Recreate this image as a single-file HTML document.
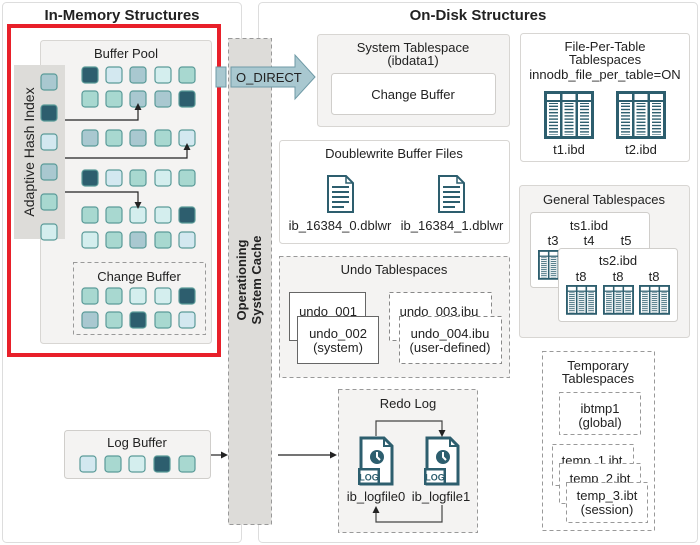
<!DOCTYPE html>
<html><head><meta charset="utf-8"><style>
html,body{margin:0;padding:0;background:#fff}
svg{display:block}
text{font-family:"Liberation Sans",sans-serif;fill:#222;font-size:13px}
.b{font-weight:bold}
</style></head><body>
<svg width="700" height="545" viewBox="0 0 700 545" xmlns="http://www.w3.org/2000/svg">
<defs>
<pattern id="st" width="4" height="3.2" patternUnits="userSpaceOnUse"><rect width="4" height="1.8" fill="#fff"/></pattern>
<g id="tbl">
<rect x="0" y="0" width="50" height="48" fill="#2d5e6e"/>
<rect x="3" y="3" width="13" height="6" fill="#fff"/><rect x="18.5" y="3" width="13" height="6" fill="#fff"/><rect x="34" y="3" width="13" height="6" fill="#fff"/>
<rect x="3" y="11" width="13" height="34" fill="#fff"/><rect x="18.5" y="11" width="13" height="34" fill="#fff"/><rect x="34" y="11" width="13" height="34" fill="#fff"/>
<rect x="5" y="12" width="9" height="32" fill="#2d5e6e"/><rect x="20.5" y="12" width="9" height="32" fill="#2d5e6e"/><rect x="36" y="12" width="9" height="32" fill="#2d5e6e"/>
<rect x="5" y="13" width="9" height="31" fill="url(#st)"/><rect x="20.5" y="13" width="9" height="31" fill="url(#st)"/><rect x="36" y="13" width="9" height="31" fill="url(#st)"/>
</g>
<g id="doc">
<path d="M1 1 H19 L26 8 V37 H1 Z" fill="#fff" stroke="#2d5e6e" stroke-width="2"/>
<path d="M19 1 V8 H26" fill="none" stroke="#2d5e6e" stroke-width="1.5"/>
<g stroke="#2d5e6e" stroke-width="2"><line x1="5" y1="12" x2="22" y2="12"/><line x1="5" y1="17" x2="22" y2="17"/><line x1="5" y1="22" x2="22" y2="22"/><line x1="5" y1="27" x2="22" y2="27"/><line x1="5" y1="32" x2="17" y2="32"/></g>
</g>
<g id="log">
<path d="M3 1 H26 L34 9 V47 H3 Z" fill="#fff" stroke="#2d5e6e" stroke-width="3"/>
<path d="M26 1 V9 H34" fill="none" stroke="#2d5e6e" stroke-width="2"/>
<circle cx="19" cy="20" r="7" fill="#2d5e6e"/>
<path d="M19 15 V20 L22 23" stroke="#fff" stroke-width="2" fill="none"/>
<rect x="0" y="31" width="22" height="17" fill="#2d5e6e"/>
<rect x="2.5" y="33.5" width="17" height="12" fill="#fff"/>
<text x="11" y="43.5" text-anchor="middle" style="font-size:9px;font-weight:bold;fill:#2d5e6e">LOG</text>
</g>
</defs>

<rect x="2.5" y="2.5" width="239" height="540" rx="4" fill="#fff" stroke="#ddd"/>
<rect x="258.5" y="2.5" width="439" height="540" rx="4" fill="#fff" stroke="#ddd"/>
<text x="122" y="20" text-anchor="middle" class="b" style="font-size:15px">In-Memory Structures</text>
<text x="478" y="20" text-anchor="middle" class="b" style="font-size:15px">On-Disk Structures</text>

<rect x="40.5" y="40.5" width="171" height="303" rx="3" fill="#f4f3f2" stroke="#d8d6d3"/>
<text x="126" y="58" text-anchor="middle">Buffer Pool</text>
<rect x="14" y="65" width="51" height="174" fill="#dddcd9"/>
<text transform="translate(34,152) rotate(-90)" text-anchor="middle" style="font-size:14px">Adaptive Hash Index</text>
<g stroke="#5a9a98" stroke-width="1.2">
<rect x="41" y="74" width="16" height="16" rx="3" fill="#a9c8d0"/>
<rect x="41" y="105" width="16" height="16" rx="3" fill="#2d5e6e"/>
<rect x="41" y="134" width="16" height="16" rx="3" fill="#d3e8f0"/>
<rect x="41" y="164" width="16" height="16" rx="3" fill="#a9c8d0"/>
<rect x="41" y="194" width="16" height="16" rx="3" fill="#a8d8d0"/>
<rect x="41" y="224" width="16" height="16" rx="3" fill="#d4eeee"/>
</g>
<g id="grid" stroke="#5a9a98" stroke-width="1.2"></g>

<g stroke="#222" stroke-width="1.2" fill="none">
<path d="M65 120 H138 V109"/>
<path d="M65 158 H187 V149"/>
<path d="M65 192 H138 V203"/>
</g>
<g fill="#222">
<path d="M134.5 110 L141.5 110 L138 103 Z"/>
<path d="M183.5 150 L190.5 150 L187 143 Z"/>
<path d="M134.5 202 L141.5 202 L138 209 Z"/>
</g>

<rect x="73.5" y="262.5" width="132" height="72" fill="none" stroke="#999" stroke-dasharray="4,3"/>
<text x="139" y="281" text-anchor="middle">Change Buffer</text>

<rect x="9" y="26" width="210" height="329" fill="none" stroke="#e8202a" stroke-width="4"/>

<rect x="228.5" y="38.5" width="43" height="486" fill="#dddcd9" stroke="#999" stroke-dasharray="4,3"/>
<text transform="translate(246,280) rotate(-90)" text-anchor="middle" class="b">Operationing</text>
<text transform="translate(261,280) rotate(-90)" text-anchor="middle" class="b">System Cache</text>

<rect x="216" y="67" width="10" height="20" fill="#a9c8d0" stroke="#6f9aa6"/>
<path d="M231 67 H295 V55 L315 77 L295 99 V87 H231 Z" fill="#a9c8d0" stroke="#6f9aa6"/>
<text x="236" y="82">O_DIRECT</text>

<rect x="317.5" y="34.5" width="192" height="92" rx="3" fill="#f4f3f2" stroke="#d8d6d3"/>
<text x="413" y="52" text-anchor="middle">System Tablespace</text>
<text x="413" y="65" text-anchor="middle">(ibdata1)</text>
<rect x="331.5" y="73.5" width="164" height="41" rx="3" fill="#fff" stroke="#d0cecb"/>
<text x="413" y="99" text-anchor="middle">Change Buffer</text>

<rect x="520.5" y="33.5" width="169" height="128" rx="3" fill="#fff" stroke="#d8d6d3"/>
<text x="605" y="51" text-anchor="middle">File-Per-Table</text>
<text x="605" y="64" text-anchor="middle">Tablespaces</text>
<text x="605" y="79" text-anchor="middle">innodb_file_per_table=ON</text>
<use href="#tbl" x="544" y="91"/>
<use href="#tbl" x="616" y="91"/>
<text x="569" y="154" text-anchor="middle">t1.ibd</text>
<text x="641" y="154" text-anchor="middle">t2.ibd</text>

<rect x="279.5" y="140.5" width="230" height="103" rx="3" fill="#fff" stroke="#d8d6d3"/>
<text x="394" y="158" text-anchor="middle">Doublewrite Buffer Files</text>
<use href="#doc" x="327" y="175"/>
<use href="#doc" x="438" y="175"/>
<text x="340" y="230" text-anchor="middle">ib_16384_0.dblwr</text>
<text x="452" y="230" text-anchor="middle">ib_16384_1.dblwr</text>

<rect x="279.5" y="256.5" width="230" height="121" fill="#f4f3f2" stroke="#999" stroke-dasharray="4,3"/>
<text x="394" y="274" text-anchor="middle">Undo Tablespaces</text>
<rect x="289.5" y="292.5" width="76" height="48" fill="#fff" stroke="#666"/>
<text x="328" y="316" text-anchor="middle">undo_001</text>
<rect x="297.5" y="316.5" width="81" height="47" fill="#fff" stroke="#666"/>
<text x="338" y="338" text-anchor="middle">undo_002</text>
<text x="338" y="352" text-anchor="middle">(system)</text>
<rect x="389.5" y="292.5" width="102" height="48" fill="#fff" stroke="#888" stroke-dasharray="4,3"/>
<text x="439" y="316" text-anchor="middle">undo_003.ibu</text>
<rect x="399.5" y="316.5" width="102" height="47" fill="#fff" stroke="#888" stroke-dasharray="4,3"/>
<text x="450" y="338" text-anchor="middle">undo_004.ibu</text>
<text x="450" y="352" text-anchor="middle">(user-defined)</text>

<rect x="519.5" y="185.5" width="170" height="152" rx="3" fill="#f4f3f2" stroke="#d8d6d3"/>
<text x="604" y="204" text-anchor="middle">General Tablespaces</text>
<rect x="530.5" y="212.5" width="119" height="75" rx="3" fill="#fff" stroke="#d0cecb"/>
<text x="589" y="230" text-anchor="middle">ts1.ibd</text>
<text x="553" y="245" text-anchor="middle">t3</text>
<text x="589" y="245" text-anchor="middle">t4</text>
<text x="626" y="245" text-anchor="middle">t5</text>
<use href="#tbl" transform="translate(538,250) scale(0.62)"/>
<rect x="558.5" y="248.5" width="119" height="73" rx="3" fill="#fff" stroke="#d0cecb"/>
<text x="618" y="265" text-anchor="middle">ts2.ibd</text>
<text x="581" y="281" text-anchor="middle">t8</text>
<text x="618" y="281" text-anchor="middle">t8</text>
<text x="654" y="281" text-anchor="middle">t8</text>
<use href="#tbl" transform="translate(566,285) scale(0.62)"/>
<use href="#tbl" transform="translate(603,285) scale(0.62)"/>
<use href="#tbl" transform="translate(639,285) scale(0.62)"/>

<rect x="542.5" y="351.5" width="112" height="179" fill="#fff" stroke="#999" stroke-dasharray="4,3"/>
<text x="598" y="370" text-anchor="middle">Temporary</text>
<text x="598" y="383" text-anchor="middle">Tablespaces</text>
<rect x="559.5" y="392.5" width="81" height="42" fill="#fff" stroke="#999" stroke-dasharray="4,3"/>
<text x="600" y="413" text-anchor="middle">ibtmp1</text>
<text x="600" y="427" text-anchor="middle">(global)</text>
<rect x="552.5" y="444.5" width="81" height="41" fill="#fff" stroke="#999" stroke-dasharray="4,3"/>
<text x="592" y="465" text-anchor="middle">temp_1.ibt</text>
<rect x="559.5" y="463.5" width="81" height="40" fill="#fff" stroke="#999" stroke-dasharray="4,3"/>
<text x="600" y="483" text-anchor="middle">temp_2.ibt</text>
<rect x="566.5" y="482.5" width="81" height="40" fill="#fff" stroke="#999" stroke-dasharray="4,3"/>
<text x="607" y="500" text-anchor="middle">temp_3.ibt</text>
<text x="607" y="514" text-anchor="middle">(session)</text>

<rect x="338.5" y="389.5" width="139" height="143" fill="#f4f3f2" stroke="#999" stroke-dasharray="4,3"/>
<text x="408" y="408" text-anchor="middle">Redo Log</text>
<use href="#log" x="358" y="437"/>
<use href="#log" x="424" y="437"/>
<text x="376" y="501" text-anchor="middle">ib_logfile0</text>
<text x="441" y="501" text-anchor="middle">ib_logfile1</text>
<g stroke="#444" stroke-width="1.2" fill="none">
<path d="M376 436 V421 H442 V431"/>
<path d="M442 505 V522 H376 V512"/>
</g>
<path d="M438.5 430 L445.5 430 L442 437 Z" fill="#222"/>
<path d="M372.5 513 L379.5 513 L376 506 Z" fill="#222"/>

<rect x="64.5" y="430.5" width="146" height="48" rx="3" fill="#f4f3f2" stroke="#d0cecb"/>
<text x="137" y="447" text-anchor="middle">Log Buffer</text>
<g stroke="#5a9a98" stroke-width="1.2">
<rect x="80" y="456" width="16" height="16" rx="3" fill="#d3e8f0"/>
<rect x="105" y="456" width="16" height="16" rx="3" fill="#a8d8d0"/>
<rect x="129" y="456" width="16" height="16" rx="3" fill="#d4eeee"/>
<rect x="154" y="456" width="16" height="16" rx="3" fill="#2d5e6e"/>
<rect x="179" y="456" width="16" height="16" rx="3" fill="#a8d8d0"/>
</g>
<g stroke="#222" stroke-width="1.2"><line x1="211" y1="455" x2="222" y2="455"/><line x1="278" y1="455" x2="331" y2="455"/></g>
<path d="M221 451.5 L228 455 L221 458.5 Z" fill="#222"/>
<path d="M330 451.5 L337 455 L330 458.5 Z" fill="#222"/>

<script>
(function(){
var D="#2d5e6e",T="#a8d8d0",G="#a9c8d0",L="#d3e8f0",P="#d4eeee";
var xs=[82,106,130,155,179];
var rows=[[67,[D,L,G,P,T]],[91,[T,T,G,G,D]],[130,[G,T,G,T,L]],[170,[D,L,T,P,T]],[207,[T,T,P,P,D]],[232,[P,T,G,T,L]],[288,[T,T,P,P,D]],[312,[G,T,D,T,L]]];
var g=document.getElementById("grid"),ns="http://www.w3.org/2000/svg";
rows.forEach(function(r){r[1].forEach(function(c,i){var e=document.createElementNS(ns,"rect");e.setAttribute("x",xs[i]);e.setAttribute("y",r[0]);e.setAttribute("width",16);e.setAttribute("height",16);e.setAttribute("rx",3);e.setAttribute("fill",c);g.appendChild(e);});});
})();
</script>
</svg>
</body></html>
